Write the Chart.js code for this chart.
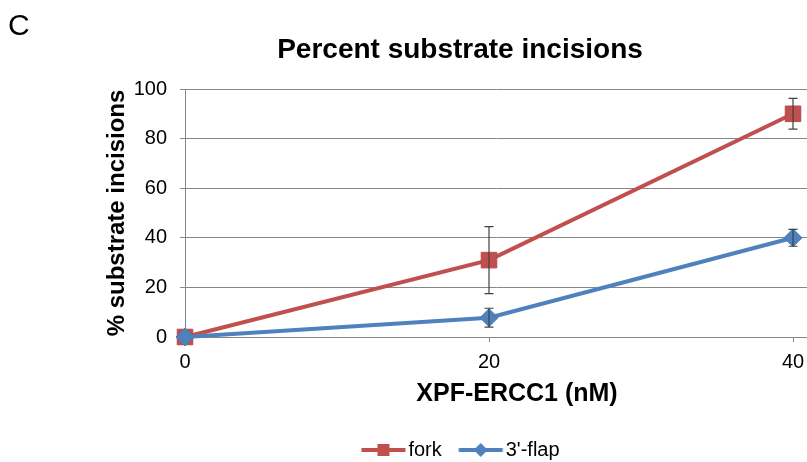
<!DOCTYPE html>
<html>
<head>
<meta charset="utf-8">
<script src="https://cdn.jsdelivr.net/npm/chart.js@4.4.0/dist/chart.umd.min.js"></script>
<style>
  html, body { margin: 0; padding: 0; background: #fff; }
</style>
</head>
<body>
<canvas id="incisionChart" width="807" height="462"></canvas>
<script>
// values (panel C)
const concentrations = [0, 20, 40];
const forkValues = [0, 31, 90];
const forkErrors = [0, 13.5, 6.2];
const flapValues = [0, 7.8, 40];
const flapErrors = [0, 3.8, 3.4];
const yTicks = [0, 20, 40, 60, 80, 100];
const xTicks = [0, 20, 40];

const FONT = "'Liberation Sans', Arial, sans-serif";
const RED = '#C0504D';
const BLUE = '#4F81BD';
const GRID = '#878787';

function toPoints(values) {
    return concentrations.map((x, i) => ({ x: x, y: values[i] }));
}

// line + marker swatch for the legend, like the Excel one.
// the image is centred on the legend box, so the drawing is shifted right
// to leave only a small gap before the label text
function legendSwatch(color, shape) {
    const c = document.createElement('canvas');
    c.width = 60;
    c.height = 16;
    const g = c.getContext('2d');
    const x0 = 11.5, x1 = 55.5, mid = (x0 + x1) / 2;
    g.strokeStyle = color;
    g.lineWidth = 4;
    g.beginPath();
    g.moveTo(x0, 8);
    g.lineTo(x1, 8);
    g.stroke();
    g.fillStyle = color;
    g.beginPath();
    if (shape === 'square') {
        g.rect(mid - 6, 2, 12, 12);
    } else {
        g.moveTo(mid, 1); g.lineTo(mid + 7, 8); g.lineTo(mid, 15); g.lineTo(mid - 7, 8);
        g.closePath();
    }
    g.fill();
    return c;
}

const errorBars = {
    id: 'errorBars',
    afterDatasetsDraw(chart) {
        const ctx = chart.ctx;
        const xs = chart.scales.x;
        const ys = chart.scales.y;
        ctx.save();
        ctx.strokeStyle = '#404040';
        ctx.lineWidth = 1.2;
        chart.data.datasets.forEach(ds => {
            ds.errors.forEach((e, i) => {
                if (!e) return;
                const px = xs.getPixelForValue(ds.data[i].x);
                const top = ys.getPixelForValue(ds.data[i].y + e);
                const bot = ys.getPixelForValue(ds.data[i].y - e);
                ctx.beginPath();
                ctx.moveTo(px, top); ctx.lineTo(px, bot);
                ctx.moveTo(px - 4.5, top); ctx.lineTo(px + 4.5, top);
                ctx.moveTo(px - 4.5, bot); ctx.lineTo(px + 4.5, bot);
                ctx.stroke();
            });
        });
        ctx.restore();
    }
};

// panel letter, chart title and x title (centred on the uncropped Excel chart)
const extraText = {
    id: 'extraText',
    afterLayout(chart) {
        // the plot runs to the right edge of the (cropped) figure
        const area = chart.chartArea;
        const extra = chart.width - area.right;
        if (extra > 0) {
            area.right += extra;
            area.width += extra;
            const xs = chart.scales.x;
            xs.right += extra;
            xs.width += extra;
            xs.configure();
        }
        // legend sits centred on the original (wider) chart
        chart.legend.left += 57;
        chart.legend.right += 57;
        chart.legend.top += 8;
        chart.legend.bottom += 8;
    },
    afterDraw(chart) {
        const ctx = chart.ctx;
        ctx.save();
        ctx.fillStyle = '#000';
        ctx.textBaseline = 'alphabetic';
        ctx.textAlign = 'left';
        ctx.font = '30px ' + FONT;
        ctx.fillText('C', 8, 35);
        ctx.textAlign = 'center';
        ctx.font = 'bold 28px ' + FONT;
        ctx.fillText('Percent substrate incisions', 460, 58);
        ctx.font = 'bold 25px ' + FONT;
        ctx.textBaseline = 'middle';
        ctx.fillText('XPF-ERCC1 (nM)', 517, 394);
        ctx.restore();
    }
};

const ctx = document.getElementById('incisionChart').getContext('2d');

const incisionChart = new Chart(ctx, {
    type: 'line',
    data: {
        datasets: [{
            label: 'fork',
            data: toPoints(forkValues),
            errors: forkErrors,
            borderColor: RED,
            backgroundColor: RED,
            borderWidth: 4,
            pointStyle: 'rect',
            pointRadius: 11,
            pointBackgroundColor: RED,
            pointBorderColor: '#B84A47',
            pointBorderWidth: 1,
            tension: 0,
            clip: false,
            order: 2
        }, {
            label: "3'-flap",
            data: toPoints(flapValues),
            errors: flapErrors,
            borderColor: BLUE,
            backgroundColor: BLUE,
            borderWidth: 4,
            pointStyle: 'rectRot',
            pointRadius: 9,
            pointBackgroundColor: BLUE,
            pointBorderColor: '#4A7AB5',
            pointBorderWidth: 1,
            tension: 0,
            clip: false,
            order: 1
        }]
    },
    options: {
        responsive: false,
        animation: false,
        layout: { padding: { top: 89, left: 0, right: 0, bottom: 0 } },
        plugins: {
            tooltip: { enabled: false },
            title: { display: false },
            legend: {
                position: 'bottom',
                labels: {
                    usePointStyle: true,
                    pointStyleWidth: 37,
                    padding: 17,
                    color: '#000',
                    font: { family: FONT, size: 20 },
                    sort: (a, b) => a.datasetIndex - b.datasetIndex,
                    generateLabels(chart) {
                        const items = Chart.defaults.plugins.legend.labels.generateLabels(chart);
                        items.forEach(it => {
                            it.pointStyle = it.datasetIndex === 0
                                ? legendSwatch(RED, 'square')
                                : legendSwatch(BLUE, 'diamond');
                        });
                        return items;
                    }
                }
            }
        },
        scales: {
            x: {
                type: 'linear',
                min: 0,
                max: 40.92,
                afterBuildTicks: s => { s.ticks = xTicks.map(v => ({ value: v })); },
                afterFit: s => { s.height = 78; },
                grid: { drawOnChartArea: false, drawTicks: true, tickLength: 5, color: GRID },
                border: { color: GRID, width: 1 },
                ticks: { color: '#000', padding: 8, font: { family: FONT, size: 20 } },
                title: { display: false }
            },
            y: {
                min: 0,
                max: 100,
                afterBuildTicks: s => { s.ticks = yTicks.map(v => ({ value: v })); },
                afterFit: s => { s.width = 185; },
                grid: { color: GRID, tickLength: 5, drawTicks: true, tickColor: GRID },
                border: { color: GRID, width: 1 },
                ticks: { color: '#000', padding: 13, font: { family: FONT, size: 20 } },
                title: {
                    display: true,
                    text: '% substrate incisions',
                    color: '#000',
                    font: { family: FONT, size: 24, weight: 'bold' },
                    padding: { top: 103, bottom: 0 }
                }
            }
        }
    },
    plugins: [errorBars, extraText]
});
</script>
</body>
</html>
